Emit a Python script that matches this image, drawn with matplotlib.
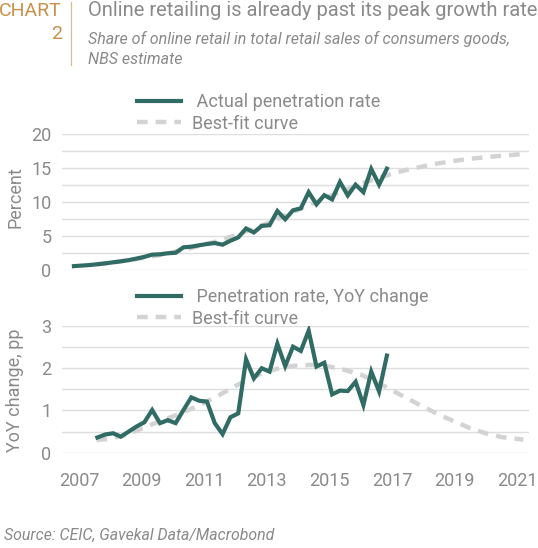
import matplotlib
matplotlib.use('Agg')
import matplotlib.pyplot as plt
from matplotlib import font_manager
from matplotlib.lines import Line2D
from matplotlib.ticker import MultipleLocator

names = {f.name for f in font_manager.fontManager.ttflist}
font = 'Liberation Sans Narrow' if 'Liberation Sans Narrow' in names else 'Roboto'
plt.rcParams['font.family'] = [font, 'DejaVu Sans']

teal = '#306b64'
fitgray = '#d3d3d3'
txtgray = '#8a8a8a'
gold = '#c8904a'

# quarterly observations
quarters = [2006.84, 2007.09, 2007.34, 2007.59, 2007.84, 2008.09, 2008.34, 2008.59,
            2008.84, 2009.09, 2009.34, 2009.59, 2009.84, 2010.09, 2010.34, 2010.59,
            2010.84, 2011.09, 2011.34, 2011.59, 2011.84, 2012.09, 2012.34, 2012.59,
            2012.84, 2013.09, 2013.34, 2013.59, 2013.84, 2014.09, 2014.34, 2014.59,
            2014.84, 2015.09, 2015.34, 2015.59, 2015.84, 2016.09, 2016.34, 2016.59,
            2016.84]
penetration = [0.64, 0.72, 0.80, 0.92, 1.05, 1.20, 1.35, 1.52, 1.75, 2.00, 2.33,
               2.38, 2.53, 2.60, 3.40, 3.50, 3.70, 3.89, 4.03, 3.79, 4.37, 4.86,
               6.17, 5.59, 6.55, 6.65, 8.73, 7.52, 8.84, 9.13, 11.50, 9.71, 11.06,
               10.44, 13.00, 11.02, 12.60, 11.50, 14.90, 12.60, 14.95]
yoy = [0.36, 0.43, 0.46, 0.38, 0.50, 0.62, 0.72, 1.01, 0.70, 0.77, 0.70, 1.01,
       1.31, 1.23, 1.21, 0.70, 0.44, 0.84, 0.93, 2.21, 1.76, 2.00, 1.92, 2.58,
       2.05, 2.51, 2.41, 2.89, 2.04, 2.13, 1.38, 1.47, 1.46, 1.68, 1.13, 1.92,
       1.45, 2.30]
yoy_x = quarters[3:]

# best-fit curves
fit_x = [2007.56, 2008.0, 2008.5, 2009.0, 2009.5, 2010.0, 2010.5, 2011.0, 2011.5,
         2012.0, 2012.5, 2013.0, 2013.5, 2014.0, 2014.5, 2015.0, 2015.5, 2016.0,
         2016.5, 2017.0, 2017.5, 2018.0, 2018.5, 2019.0, 2019.5, 2020.0, 2020.5,
         2021.2]
fit_level = [0.90, 1.10, 1.45, 1.80, 2.20, 2.70, 3.20, 3.80, 4.40, 5.20, 6.00, 6.90,
             7.90, 8.90, 9.90, 10.90, 11.80, 12.70, 13.50, 14.20, 14.80, 15.30,
             15.75, 16.10, 16.40, 16.65, 16.85, 17.10]
fit_yoy = [0.30, 0.33, 0.42, 0.57, 0.72, 0.86, 1.01, 1.18, 1.37, 1.58, 1.77, 1.92,
           2.02, 2.07, 2.08, 2.04, 1.96, 1.85, 1.68, 1.48, 1.28, 1.09, 0.90, 0.74,
           0.58, 0.46, 0.37, 0.31]

years = [2007, 2009, 2011, 2013, 2015, 2017, 2019, 2021]

W, H = 538, 548
fig = plt.figure(figsize=(W / 100, H / 100), dpi=100)

def box(x0, y0, x1, y1):
    return [x0 / W, 1 - y1 / H, (x1 - x0) / W, (y1 - y0) / H]

ax1 = fig.add_axes(box(61.7, 134.3, 529, 270.5))
ax2 = fig.add_axes(box(61.7, 326, 529, 452.7))

ax1.set_ylim(0, 20)
ax1.yaxis.set_major_locator(MultipleLocator(5))
ax1.yaxis.set_minor_locator(MultipleLocator(2.5))
ax2.set_ylim(0, 3)
ax2.yaxis.set_major_locator(MultipleLocator(1))
ax2.yaxis.set_minor_locator(MultipleLocator(0.5))

for ax in (ax1, ax2):
    ax.set_xlim(2006.45, 2021.38)
    ax.set_xticks(years)
    for s in ax.spines.values():
        s.set_visible(False)
    ax.tick_params(which='both', length=0, colors=txtgray, labelsize=13)
    ax.tick_params(axis='y', pad=7.3)
    ax.tick_params(axis='x', pad=14)
    ax.set_axisbelow(True)
    ax.yaxis.grid(True, which='both', color='#dedede', linewidth=1.0, linestyle='-')

dash = dict(color=fitgray, lw=3.2, dashes=(2.4, 1.8))
ax1.plot(fit_x, fit_level, **dash)
ax1.plot(quarters, penetration, color=teal, lw=3.0, solid_joinstyle='miter')
ax2.plot(fit_x, fit_yoy, **dash)
ax2.plot(yoy_x, yoy, color=teal, lw=3.0, solid_joinstyle='miter')
ax1.tick_params(axis='x', labelbottom=False)

fig.text(15 / W, 1 - 197 / H, 'Percent', rotation=90, ha='center', va='center',
         color=txtgray, fontsize=13)
fig.text(15 / W, 1 - 390 / H, 'YoY change, pp', rotation=90, ha='center', va='center',
         color=txtgray, fontsize=13)

def legend(label, y):
    h = [Line2D([], [], color=teal, lw=3.0),
         Line2D([], [], **dash)]
    fig.legend(h, [label, 'Best-fit curve'], loc='upper left',
               bbox_to_anchor=(137 / W, 1 - y / H), frameon=False, fontsize=13,
               labelcolor=txtgray, handlelength=2.45, handletextpad=0.6,
               labelspacing=0.2, borderpad=0, borderaxespad=0)

legend(' Actual penetration rate', 93)
legend(' Penetration rate, YoY change', 288)

fig.text(62 / W, 1 - 11 / H, 'CHART', ha='right', va='center', color=gold, fontsize=14)
fig.text(62 / W, 1 - 34 / H, '2', ha='right', va='center', color=gold, fontsize=14)
fig.add_artist(Line2D([71 / W, 71 / W], [1 - 2 / H, 1 - 65 / H], color='#d9b98e', lw=0.9))
fig.text(88 / W, 1 - 11 / H, 'Online retailing is already past its peak growth rate',
         ha='left', va='center', color=txtgray, fontsize=14.5)
fig.text(88 / W, 1 - 38.5 / H, 'Share of online retail in total retail sales of consumers goods,',
         ha='left', va='center', color=txtgray, fontsize=11.5, style='italic')
fig.text(88 / W, 1 - 59 / H, 'NBS estimate', ha='left', va='center', color=txtgray,
         fontsize=11.5, style='italic')
fig.text(4 / W, 1 - 535 / H, 'Source: CEIC, Gavekal Data/Macrobond', ha='left',
         va='center', color=txtgray, fontsize=11.4, style='italic')

fig.savefig('out.png', dpi=100)
